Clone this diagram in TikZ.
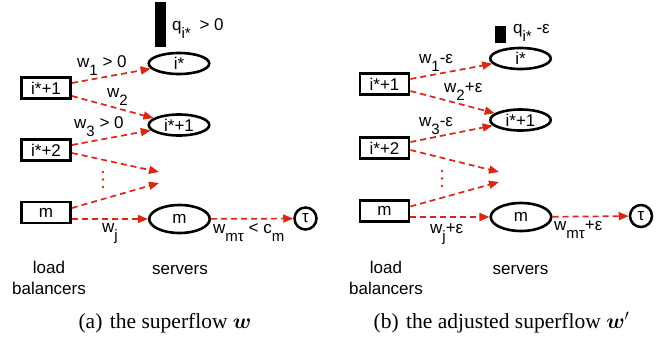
\RequirePackage{fix-cm}
\documentclass[tikz,border=0pt]{standalone}
\usepackage{amsmath,bm}
\usepackage{fontspec}
\setmainfont{Liberation Sans}
\newfontfamily\capserif{Liberation Serif}
\usetikzlibrary{shapes.geometric,arrows.meta}
\definecolor{flowred}{RGB}{218,38,18}
\newcommand{\lo}[1]{\raisebox{-8pt}{\fontsize{15}{15}\selectfont #1}}
\begin{document}
\begin{tikzpicture}[x=1pt,y=-1pt,
  font=\fontsize{17}{18}\selectfont,
  lbbox/.style={draw, line width=2.8pt, minimum width=49pt, minimum height=21pt, inner sep=0},
  srv/.style={draw, ellipse, line width=2.6pt, minimum width=60.5pt, minimum height=21pt, inner sep=0},
  srvm/.style={srv, minimum height=28pt},
  sink/.style={draw, circle, line width=2.5pt, minimum size=22pt, inner sep=0},
  flow/.style={draw=flowred, line width=1.7pt, dash pattern=on 6pt off 4pt, -{Triangle[length=10pt,width=8pt]}},
  dots/.style={draw=flowred, line width=2.9pt, line cap=round, dash pattern=on 0pt off 7.5pt},
  lab/.style={anchor=base west, inner sep=0},
  ctext/.style={anchor=base, inner sep=0},
  captext/.style={anchor=base, inner sep=0, font=\capserif\fontsize{21.5}{24}\selectfont}]
\useasboundingbox (0,0) rectangle (672,341);

% ---------------- left panel ----------------
\node[lbbox] (Lb1) at (46,88) {i*+1};
\node[lbbox] (Lb2) at (46,150) {i*+2};
\node[lbbox] (Lb3) at (46,212.5) {m};
\node[srv] (Ls1) at (179,63.5) {i*};
\node[srv] (Ls2) at (179,125) {i*+1};
\node[srvm] (Ls3) at (179.5,219) {m};
\node[sink] (Lt) at (305.5,218.5) {τ};
\coordinate (Le1) at (159,172);
\coordinate (Le2) at (159,183);
\coordinate (Ld1) at (103,172);
\coordinate (Ld2) at (103,188);
\fill (155,2) rectangle (166,47);

\draw[flow] ([yshift=5pt]Lb1.east) -- (Ls1);
\draw[flow] ([yshift=-8pt]Lb1.east) -- (Ls2);
\draw[flow] ([yshift=5pt]Lb2.east) -- (Ls2);
\draw[flow] ([yshift=-3pt]Lb2.east) -- (Le1);
\draw[flow] ([yshift=4.5pt]Lb3.east) -- (Le2);
\draw[flow] ([yshift=-6.5pt]Lb3.east) -- (Ls3);
\draw[flow] (Ls3) -- (Lt);
\draw[dots] (Ld1) -- (Ld2);

\node[lab] (Lq) at (172,30) {q\lo{i*}\hspace{4pt} > 0};
\node[lab] (Lw1) at (77,67) {w\lo{1} > 0};
\node[lab] (Lw2) at (107,97) {w\lo{2}};
\node[lab] (Lw3) at (74,128) {w\lo{3} > 0};
\node[lab] (Lwj) at (102,232) {w\lo{j}};
\node[lab] (Lwm) at (213,233) {w\lo{mτ} < c\lo{m}};
\node[ctext] (Lload) at (49,273) {load};
\node[ctext] (Lbal) at (49,294) {balancers};
\node[ctext] (Lserv) at (180,274) {servers};
\node[captext] (Lcap) at (165,328) {(a)\hspace{0.35em}the superflow $\boldsymbol{w}$};

% ---------------- right panel ----------------
\node[lbbox] (Rb1) at (384.5,84) {i*+1};
\node[lbbox] (Rb2) at (384.5,148) {i*+2};
\node[lbbox] (Rb3) at (384.5,211) {m};
\node[srv] (Rs1) at (520.5,58.5) {i*};
\node[srv] (Rs2) at (520.5,120) {i*+1};
\node[srvm] (Rs3) at (521,217) {m};
\node[sink] (Rt) at (641,216) {τ};
\coordinate (Re1) at (499,172);
\coordinate (Re2) at (499,182);
\coordinate (Rd1) at (442,171);
\coordinate (Rd2) at (442,187);
\fill (495,26) rectangle (506,43);

\draw[flow] ([yshift=5pt]Rb1.east) -- (Rs1);
\draw[flow] ([yshift=-7pt]Rb1.east) -- (Rs2);
\draw[flow] ([yshift=6pt]Rb2.east) -- (Rs2);
\draw[flow] ([yshift=-2pt]Rb2.east) -- (Re1);
\draw[flow] ([yshift=4.5pt]Rb3.east) -- (Re2);
\draw[flow] ([yshift=-6pt]Rb3.east) -- (Rs3);
\draw[flow] (Rs3) -- (Rt);
\draw[dots] (Rd1) -- (Rd2);

\node[lab] (Rq) at (513,33) {q\lo{i*} -ε};
\node[lab] (Rw1) at (419,63) {w\lo{1}-ε};
\node[lab] (Rw2) at (444,92) {w\lo{2}+ε};
\node[lab] (Rw3) at (419,126) {w\lo{3}-ε};
\node[lab] (Rwj) at (430,233) {w\lo{j}+ε};
\node[lab] (Rwm) at (554,230) {w\lo{mτ}+ε};
\node[ctext] (Rload) at (386,273) {load};
\node[ctext] (Rbal) at (386,294) {balancers};
\node[ctext] (Rserv) at (520.5,274) {servers};
\node[captext] (Rcap) at (501.5,328) {(b)\hspace{0.35em}the adjusted superflow $\boldsymbol{w}'$};
\end{tikzpicture}
\end{document}
